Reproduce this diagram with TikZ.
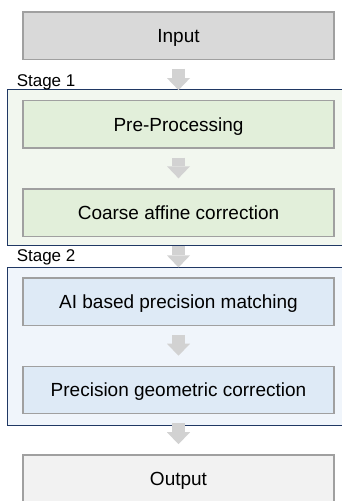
\documentclass[tikz,border=0pt]{standalone}
\usepackage{fontspec}
\setmainfont{Liberation Sans}
\usetikzlibrary{arrows.meta}
\definecolor{boxborder}{RGB}{160,160,160}
\definecolor{inputfill}{RGB}{217,217,217}
\definecolor{greenfill}{RGB}{226,239,218}
\definecolor{stageonefill}{RGB}{242,247,239}
\definecolor{bluefill}{RGB}{222,234,246}
\definecolor{stagetwofill}{RGB}{240,245,251}
\definecolor{outfill}{RGB}{242,242,242}
\definecolor{navy}{RGB}{32,56,100}
\definecolor{arrowgray}{RGB}{210,210,210}
\tikzset{
  procbox/.style={draw=boxborder, line width=1.1pt, inner sep=0pt, outer sep=0pt,
    minimum width=233.25pt, minimum height=35.6pt,
    font=\fontsize{14.25}{16}\selectfont, text height=10.2pt, text depth=0pt},
  stagebox/.style={inner sep=0pt, outer sep=0pt, minimum width=264.5pt},
  stageline/.style={draw=navy, line width=0.9pt},
  stagelabel/.style={anchor=base west, inner sep=0pt, font=\fontsize{12.75}{15}\selectfont},
  bigarrow/.style={draw=arrowgray, line width=9.45pt,
    -{Triangle[width=17.25pt,length=9pt,line width=0pt]},
    shorten <=7.1pt, shorten >=7.9pt}
}
\begin{document}
\begin{tikzpicture}[x=0.75pt,y=-0.75pt]
\useasboundingbox (0,0) rectangle (342,501);
\clip (0,0) rectangle (342,501);
% stage frames
\node[stagebox, fill=stageonefill, minimum height=117pt] (s1) at (183.65,167.5) {};
\node[stagebox, fill=stagetwofill, minimum height=118.5pt] (s2) at (183.65,346.3) {};
\draw[stageline] (s1.north east) -- (s1.north west) -- (s1.south west) -- (s1.south east);
\draw[stageline] (s2.north east) -- (s2.north west) -- (s2.south west) -- (s2.south east);
\node[stagelabel] (l1) at (16.5,86) {Stage 1};
\node[stagelabel] (l2) at (16.5,261.7) {Stage 2};
% process boxes
\node[procbox, fill=inputfill] (inp) at (178.5,35.5) {Input};
\node[procbox, fill=greenfill] (pre) at (178.5,124.4) {Pre-Processing};
\node[procbox, fill=greenfill] (coa) at (178.5,212.6) {Coarse affine correction};
\node[procbox, fill=bluefill] (ai) at (178.5,301.7) {AI based precision matching};
\node[procbox, fill=bluefill] (prec) at (178.5,390) {Precision geometric correction};
\node[procbox, fill=outfill] (out) at (178.5,478.5) {Output};
% arrows
\draw[bigarrow] (inp) -- (pre);
\draw[bigarrow] (pre) -- (coa);
\draw[bigarrow] (coa) -- (ai);
\draw[bigarrow] (ai) -- (prec);
\draw[bigarrow] (prec) -- (out);
\end{tikzpicture}
\end{document}
